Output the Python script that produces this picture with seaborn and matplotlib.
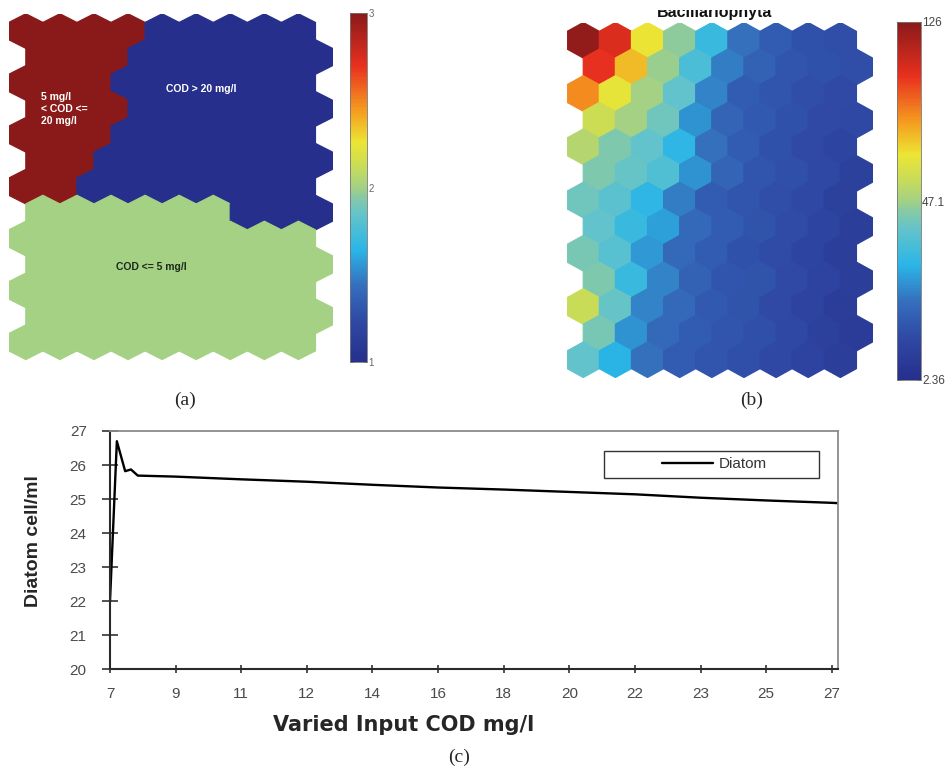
import numpy as np
import seaborn as sns
import matplotlib.pyplot as plt
from matplotlib.collections import PolyCollection
from matplotlib.colors import LinearSegmentedColormap, Normalize, TwoSlopeNorm
from matplotlib.patches import Rectangle

sns.set_theme(style="white")
plt.rcParams['font.family'] = ['Liberation Sans', 'DejaVu Sans']

# (a) SOM cluster map, 13 rows x 9 cols (1: COD > 20, 2: COD <= 5, 3: 5 < COD <= 20)
cluster_map = [
    [3, 3, 3, 3, 1, 1, 1, 1, 1],
    [3, 3, 3, 1, 1, 1, 1, 1, 1],
    [3, 3, 3, 1, 1, 1, 1, 1, 1],
    [3, 3, 3, 1, 1, 1, 1, 1, 1],
    [3, 3, 3, 1, 1, 1, 1, 1, 1],
    [3, 3, 1, 1, 1, 1, 1, 1, 1],
    [3, 3, 1, 1, 1, 1, 1, 1, 1],
    [2, 2, 2, 2, 2, 2, 1, 1, 1],
    [2, 2, 2, 2, 2, 2, 2, 2, 2],
    [2, 2, 2, 2, 2, 2, 2, 2, 2],
    [2, 2, 2, 2, 2, 2, 2, 2, 2],
    [2, 2, 2, 2, 2, 2, 2, 2, 2],
    [2, 2, 2, 2, 2, 2, 2, 2, 2],
]

# (b) Bacillariophyta component plane, 13 rows x 9 cols
bacillariophyta = [
    [124.0, 105.5, 67.6, 45.3, 33.7, 22.0, 17.6, 14.9, 14.0],
    [102.3, 75.5, 46.2, 36.4, 23.8, 18.5, 15.8, 14.9, 14.0],
    [85.0, 66.0, 47.1, 39.9, 24.7, 17.6, 15.8, 14.0, 13.1],
    [58.1, 47.1, 41.7, 26.5, 19.4, 16.7, 14.9, 13.1, 12.2],
    [51.8, 43.5, 39.9, 31.9, 22.0, 17.6, 14.9, 12.6, 10.8],
    [43.5, 40.8, 37.3, 26.5, 19.4, 15.8, 14.4, 12.2, 9.5],
    [41.7, 39.0, 31.9, 23.8, 17.6, 15.8, 14.0, 12.2, 9.5],
    [39.9, 33.7, 28.3, 20.3, 17.6, 15.3, 13.5, 11.3, 8.6],
    [42.6, 38.2, 27.4, 20.3, 17.6, 14.9, 13.5, 11.3, 8.6],
    [43.5, 33.7, 24.7, 18.5, 15.8, 15.3, 13.1, 10.4, 8.6],
    [56.6, 40.8, 24.7, 20.3, 16.7, 15.3, 13.1, 10.4, 8.2],
    [42.6, 26.5, 20.3, 17.6, 15.8, 14.4, 12.2, 9.5, 7.7],
    [39.9, 31.0, 22.0, 17.6, 15.8, 14.4, 12.2, 10.4, 8.6],
]
bac_ticks = [2.36, 47.1, 126]
bac_ticklabels = ["2.36", "47.1", "126"]

# (c) sensitivity of diatom to input COD
cod = [7.0, 7.19, 7.42, 7.58, 7.77, 8.82, 10.64, 12.45, 14.27, 16.09,
       17.91, 19.73, 21.55, 23.36, 25.18, 27.0, 27.18]
diatom = [22.0, 26.7, 25.82, 25.87, 25.69, 25.66, 25.58, 25.51, 25.42, 25.34,
          25.28, 25.21, 25.14, 25.04, 24.96, 24.89, 24.88]
cod_ticklabels = ["7", "9", "11", "12", "14", "16", "18", "20", "22", "23", "25", "27"]

# washed-out jet, sampled from the colour bars
jet_like = LinearSegmentedColormap.from_list("jet_like", [
    (0.00, "#262f8c"), (0.12, "#2f4aa5"), (0.22, "#3570bd"),
    (0.32, "#2ab5e6"), (0.42, "#62c3cc"), (0.47, "#86c9a6"),
    (0.50, "#a3d184"), (0.56, "#c8dc58"), (0.63, "#ece534"),
    (0.72, "#f59d1f"), (0.85, "#e8301f"), (1.00, "#8a1a1a")])


def hex_cells(nrows, ncols):
    R = 1 / np.sqrt(3)
    ang = np.deg2rad([90, 150, 210, 270, 330, 30])
    cells = []
    for r in range(nrows):
        for c in range(ncols):
            cx = c + 0.5 * (r % 2)
            cy = -r * 1.5 * R
            cells.append(np.column_stack([cx + R * np.cos(ang), cy + R * np.sin(ang)]))
    return cells, R


def hex_map(ax, values, norm):
    vals = np.asarray(values, dtype=float)
    nrows, ncols = vals.shape
    cells, R = hex_cells(nrows, ncols)
    pc = PolyCollection(cells, array=vals.ravel(), cmap=jet_like, norm=norm,
                        edgecolors="face", linewidths=0.9)
    ax.add_collection(pc)
    ax.set_xlim(-0.5, ncols)
    ax.set_ylim(-(nrows - 1) * 1.5 * R - R, R)
    ax.set_axis_off()
    return pc


W, H = 947, 771
fig = plt.figure(figsize=(W / 100, H / 100), dpi=100)


def px_axes(x0, y0, x1, y1):
    return fig.add_axes([x0 / W, 1 - y1 / H, (x1 - x0) / W, (y1 - y0) / H])


# ---- (a)
ax_a = px_axes(8.8, 13.8, 332.5, 359.5)
pc_a = hex_map(ax_a, cluster_map, Normalize(1, 3))
cax_a = px_axes(350, 13, 367, 362)
cb_a = fig.colorbar(pc_a, cax=cax_a, ticks=[1, 2, 3])
cb_a.outline.set_edgecolor("#777777")
cb_a.outline.set_linewidth(0.6)
cax_a.tick_params(direction="in", left=True, right=True, length=3, width=0.6,
                  color="#555555", labelsize=7, labelcolor="#666666", pad=1)

ax_a.text(0.098, 0.724, "5 mg/l\n< COD <=\n20 mg/l", transform=ax_a.transAxes,
          ha="left", va="center", color="white", fontsize=7.5, fontweight="bold",
          linespacing=1.25)
ax_a.text(0.596, 0.782, "COD > 20 mg/l", transform=ax_a.transAxes,
          ha="center", va="center", color="white", fontsize=7.5, fontweight="bold")
ax_a.text(0.441, 0.268, "COD <= 5 mg/l", transform=ax_a.transAxes,
          ha="center", va="center", color="#1c2a1c", fontsize=7.5, fontweight="bold")

# ---- (b)
ax_b = px_axes(567.2, 22.5, 872.5, 377.5)
pc_b = hex_map(ax_b, bacillariophyta, TwoSlopeNorm(vcenter=47.1, vmin=2.36, vmax=126))
cax_b = px_axes(896.7, 22, 920.7, 380)
cb_b = fig.colorbar(pc_b, cax=cax_b, ticks=bac_ticks)
cb_b.set_ticklabels(bac_ticklabels)
cb_b.outline.set_edgecolor("#777777")
cb_b.outline.set_linewidth(0.6)
cax_b.tick_params(direction="in", left=True, right=True, length=3, width=0.6,
                  color="#555555", labelsize=8.5, labelcolor="#444444", pad=1)

fig.text(715 / W, 1 - 17 / H, "Bacillariophyta", ha="center", va="baseline",
         fontsize=11.5, fontweight="bold", color="#111111")
fig.patches.append(Rectangle((630 / W, 1 - 10 / H), 180 / W, 10 / H,
                             transform=fig.transFigure, facecolor="white",
                             edgecolor="none", zorder=10))

# ---- (c)
ax_c = px_axes(110, 431, 838.3, 669.3)
sns.lineplot(x=cod, y=diatom, ax=ax_c, color="black", linewidth=1.7,
             label="Diatom", legend=False)
ax_c.set_xlim(7, 27.18)
ax_c.set_ylim(20, 27)
ax_c.set_yticks(range(20, 28))
ax_c.set_xticks(np.linspace(7, 27, len(cod_ticklabels)))
ax_c.set_xticklabels(cod_ticklabels)
ax_c.grid(False)
for side in ["left", "bottom"]:
    ax_c.spines[side].set_color("#2a2a2a")
    ax_c.spines[side].set_linewidth(1.5)
for side in ["top", "right"]:
    ax_c.spines[side].set_color("#8a8a8a")
    ax_c.spines[side].set_linewidth(1.3)
ax_c.tick_params(axis="y", direction="inout", length=11.5, width=1.2, color="#333333",
                 pad=11, labelsize=11, labelcolor="#4a4a4a", left=True)
ax_c.tick_params(axis="x", direction="inout", length=6, width=1.2, color="#333333",
                 pad=10, labelsize=11, labelcolor="#4a4a4a", bottom=True)

ax_c.set_ylabel("Diatom cell/ml", fontsize=14, fontweight="bold",
                family=["Liberation Sans Narrow", "Liberation Sans", "DejaVu Sans"],
                fontstretch="condensed")
ax_c.yaxis.set_label_coords((33 - 110) / 728.3, (669.3 - 541) / 238.3)
ax_c.yaxis.label.set_va("center")
ax_c.set_xlabel("Varied Input COD mg/l", fontsize=15, fontweight="bold",
                family=["DejaVu Sans"])
ax_c.xaxis.set_label_coords((404 - 110) / 728.3, (669.3 - 725) / 238.3)
ax_c.xaxis.label.set_va("center")

handles, labels = ax_c.get_lines(), ["Diatom"]
ax_c.legend(handles[:1], labels, loc="center", bbox_to_anchor=(0.830, 0.860),
            frameon=False, fontsize=11, handlelength=3.3, handletextpad=0.4,
            borderpad=0, labelcolor="#333333")
ax_c.add_patch(Rectangle((0.678, 0.803), 0.295, 0.1146, transform=ax_c.transAxes,
                         facecolor="none", edgecolor="#333333", linewidth=1.0))

# panel letters
for x, y, s in [(185, 400, "(a)"), (752, 400, "(b)"), (459, 757, "(c)")]:
    fig.text(x / W, 1 - y / H, s, ha="center", va="center", fontsize=14,
             family=["Liberation Serif", "DejaVu Serif"])

fig.savefig("out.png", dpi=100)
